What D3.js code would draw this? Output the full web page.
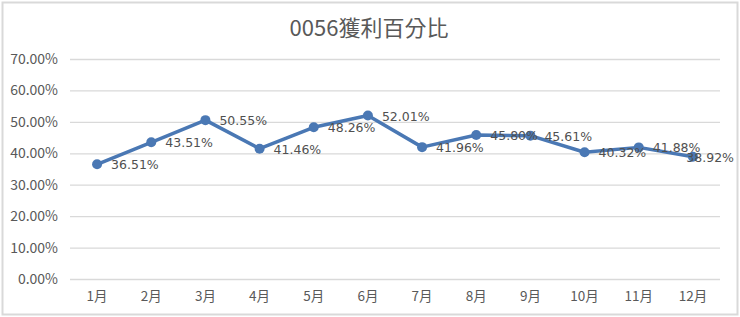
<!DOCTYPE html>
<html>
<head>
<meta charset="utf-8">
<script src="https://cdn.jsdelivr.net/npm/d3@7"></script>
<style>
  body { margin: 0; background: #fff; }
  text { font-family: "Noto Sans CJK TC", "Noto Sans", sans-serif; }
  text.valueText { font-family: "DejaVu Sans", sans-serif; }
</style>
</head>
<body>
<div class="chart"></div>
<script>
var months = ["1月","2月","3月","4月","5月","6月","7月","8月","9月","10月","11月","12月"];
var profitPct = [36.51, 43.51, 50.55, 41.46, 48.26, 52.01, 41.96, 45.80, 45.61, 40.32, 41.88, 38.92];
var yTicks = [0, 10, 20, 30, 40, 50, 60, 70];

var svgWidth = 740;
var svgHeight = 317;

var margin = { top: 59, right: 20, bottom: 38, left: 70 };
var width = svgWidth - margin.left - margin.right;
var height = svgHeight - margin.top - margin.bottom;

var svg = d3.select(".chart")
  .append("svg")
  .attr("width", svgWidth)
  .attr("height", svgHeight);

// outer frame
svg.append("rect")
  .attr("x", 2.5).attr("y", 2.5)
  .attr("width", svgWidth - 5).attr("height", svgHeight - 5)
  .attr("fill", "#fff")
  .attr("stroke", "#d9d9d9")
  .attr("stroke-width", 2);

svg.append("text")
  .attr("x", 369)
  .attr("y", 36)
  .attr("text-anchor", "middle")
  .attr("font-size", "22px")
  .attr("fill", "#595959")
  .text("0056獲利百分比");

var chartGroup = svg.append("g")
  .attr("transform", `translate(${margin.left}, ${margin.top})`);

var xScale = d3.scaleBand()
  .domain(months)
  .range([0, width]);

var yScale = d3.scaleLinear()
  .domain([0, 70])
  .range([height, 0]);

// gridlines + y labels
var leftAxis = d3.axisLeft(yScale)
  .tickValues(yTicks)
  .tickSize(-width)
  .tickFormat(d => d.toFixed(2) + "%");

var yAxis = chartGroup.append("g").call(leftAxis);
yAxis.select(".domain").remove();
yAxis.selectAll("line").attr("stroke", "#d9d9d9").attr("stroke-width", 1.3);
yAxis.selectAll("text")
  .attr("x", -12)
  .attr("font-size", "14px")
  .attr("fill", "#595959");

var bottomAxis = d3.axisBottom(xScale).tickSize(0).tickPadding(12);
var xAxis = chartGroup.append("g")
  .attr("transform", `translate(0, ${height})`)
  .call(bottomAxis);
xAxis.select(".domain").remove();
xAxis.selectAll("text")
  .attr("font-size", "13.5px")
  .attr("fill", "#595959");

var cx = (d, i) => xScale(months[i]) + xScale.bandwidth() / 2;

var line = d3.line()
  .x(cx)
  .y(d => yScale(d));

chartGroup.append("path")
  .datum(profitPct)
  .attr("fill", "none")
  .attr("stroke", "#4a78b4")
  .attr("stroke-width", 3.5)
  .attr("stroke-linejoin", "round")
  .attr("d", line);

chartGroup.selectAll("circle")
  .data(profitPct)
  .enter()
  .append("circle")
  .attr("cx", cx)
  .attr("cy", d => yScale(d))
  .attr("r", 5)
  .attr("fill", "#4a78b4");

// value labels sit right of the point, but stay inside the frame
var maxRight = svgWidth - 6 - margin.left;
chartGroup.selectAll(".valueText")
  .data(profitPct)
  .enter()
  .append("text")
  .attr("class", "valueText")
  .attr("y", d => yScale(d) + 5)
  .attr("font-size", "12.5px")
  .attr("fill", "#505050")
  .text(d => d.toFixed(2) + "%")
  .attr("x", function(d, i) {
    var w = this.getComputedTextLength();
    return Math.min(cx(d, i) + 14, maxRight - w);
  });
</script>
</body>
</html>
